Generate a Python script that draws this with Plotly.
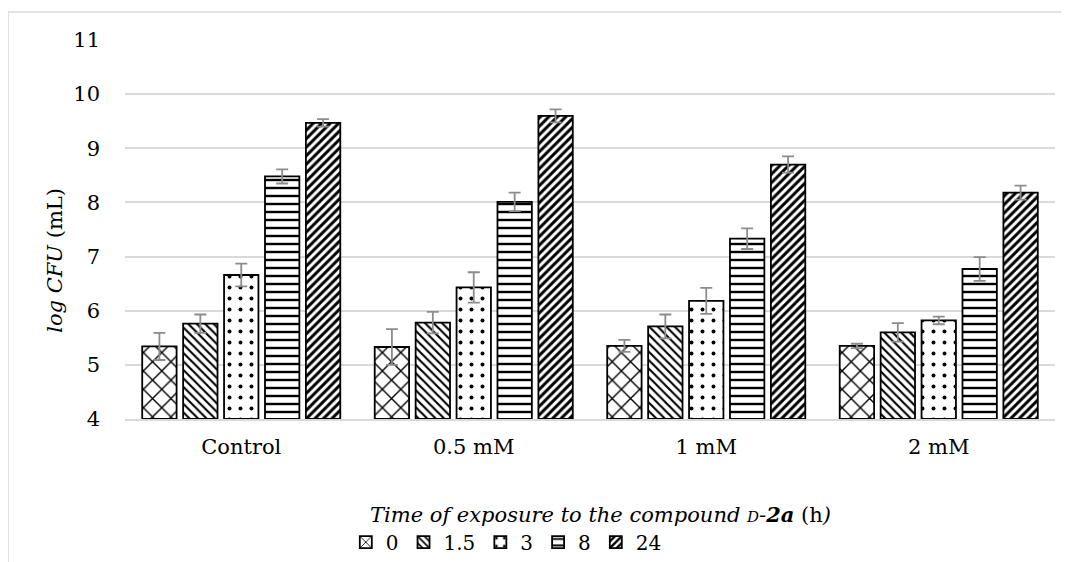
import plotly.graph_objects as go

categories = ["Control", "0.5 mM", "1 mM", "2 mM"]
series_names = ["0", "1.5", "3", "8", "24"]
values = {
    "0":   [5.34, 5.33, 5.35, 5.35],
    "1.5": [5.76, 5.78, 5.71, 5.60],
    "3":   [6.66, 6.43, 6.18, 5.82],
    "8":   [8.48, 8.01, 7.33, 6.77],
    "24":  [9.47, 9.60, 8.70, 8.18],
}
errors = {
    "0":   [0.25, 0.33, 0.11, 0.04],
    "1.5": [0.17, 0.20, 0.22, 0.17],
    "3":   [0.21, 0.28, 0.24, 0.07],
    "8":   [0.13, 0.17, 0.19, 0.22],
    "24":  [0.07, 0.12, 0.15, 0.13],
}
patterns = {"0": "x", "1.5": "\\", "3": ".", "8": "-", "24": "/"}
pattern_size = {"0": 13, "1.5": 6, "3": 11, "8": 8, "24": 6}
pattern_solid = {"0": 0.2, "1.5": 0.35, "3": 0.1, "8": 0.3, "24": 0.5}

font_family = "DejaVu Serif, Liberation Serif, serif"

fig = go.Figure()
for s in series_names:
    fig.add_trace(go.Bar(
        name=s,
        x=categories,
        y=[v - 4 for v in values[s]],
        base=4,
        marker=dict(
            color="white",
            line=dict(color="black", width=1.8),
            pattern=dict(shape=patterns[s], fgcolor="black", bgcolor="white",
                         fgopacity=1, size=pattern_size[s], solidity=pattern_solid[s]),
        ),
        error_y=dict(type="data", array=errors[s], color="#8c8c8c",
                     thickness=1.8, width=6),
    ))

fig.update_layout(
    width=1069, height=562,
    paper_bgcolor="white", plot_bgcolor="white",
    margin=dict(l=117, r=22, t=32, b=151, autoexpand=False),
    barmode="group", bargap=0.12, bargroupgap=0.16,
    font=dict(family=font_family, size=21, color="black"),
    showlegend=True,
    legend=dict(orientation="h", x=0.41, xanchor="center", y=-0.325, yanchor="middle",
                font=dict(size=20), traceorder="normal", itemwidth=30, tracegroupgap=0),
    xaxis=dict(
        showline=True, linecolor="#d9d9d9", linewidth=2,
        ticks="", tickfont=dict(size=21), ticklabelstandoff=8,
    ),
    yaxis=dict(
        range=[4, 11], dtick=1, showgrid=True, gridcolor="#d9d9d9", gridwidth=1.6,
        zeroline=False, showline=False, ticks="", ticklen=0,
        tickfont=dict(size=21), ticklabelstandoff=24,
    ),
    annotations=[
        dict(text="<i>Time of exposure to the compound <span style='font-size:15px'>D</span>-<b>2a</b></i> (h<i>)</i>",
             xref="paper", yref="paper", x=0.511, y=-0.253, xanchor="center", yanchor="middle",
             showarrow=False, font=dict(size=21)),
        dict(text="<i>log CFU</i> (mL)", textangle=-90,
             xref="paper", yref="paper", x=-0.0753, y=0.42, xanchor="center", yanchor="middle",
             showarrow=False, font=dict(size=21)),
    ],
    shapes=[dict(type="rect", xref="paper", yref="paper",
                 x0=-0.1258, x1=1.0086, y0=-0.45, y1=1.074,
                 line=dict(color="#d9d9d9", width=1.5), fillcolor="rgba(0,0,0,0)",
                 layer="below")],
)

fig.write_html("out.html")
